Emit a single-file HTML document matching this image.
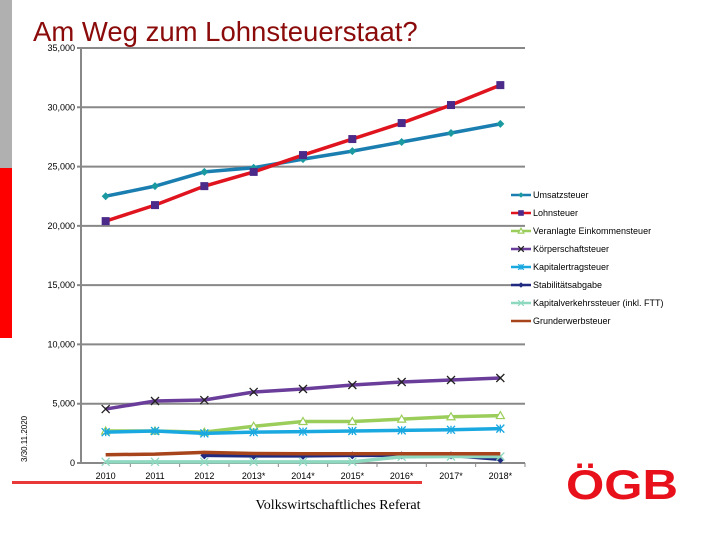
<!DOCTYPE html>
<html><head><meta charset="utf-8"><style>
body{margin:0;background:#fff;width:720px;height:540px;overflow:hidden;font-family:"Liberation Sans",sans-serif;}
svg{display:block}
</style></head><body>
<svg id="c" width="720" height="540" xmlns="http://www.w3.org/2000/svg">
<rect x="0" y="0" width="12" height="168" fill="#b0b0b0"/>
<rect x="0" y="168" width="12" height="170" fill="#ff0000"/>
<text x="33" y="41" font-size="27.5" fill="#8b0a0a">Am Weg zum Lohnsteuerstaat?</text>
<rect x="12" y="481" width="410" height="3" fill="#e83838"/>
<text x="338" y="509" font-size="14" text-anchor="middle" font-family="Liberation Serif, serif">Volkswirtschaftliches Referat</text>
<text transform="translate(27,462) rotate(-90)" font-size="8">3/30.11.2020</text>
<g>
<text x="622" y="499" font-size="42" font-weight="bold" fill="#e8101a" text-anchor="middle" font-family="Liberation Sans, sans-serif" textLength="112" lengthAdjust="spacingAndGlyphs">ÖGB</text>
</g>
<g id="plot"></g>
</svg>
<script>
const categories=["2010","2011","2012","2013*","2014*","2015*","2016*","2017*","2018*"];
const yTicks=[0,5000,10000,15000,20000,25000,30000,35000];
const yTickLabels=["0","5,000","10,000","15,000","20,000","25,000","30,000","35,000"];
const seriesNames=["Umsatzsteuer","Lohnsteuer","Veranlagte Einkommensteuer","Körperschaftsteuer","Kapitalertragsteuer","Stabilitätsabgabe","Kapitalverkehrssteuer (inkl. FTT)","Grunderwerbsteuer"];
const umsatz=[22500,23350,24550,24900,25630,26300,27070,27830,28600];
const lohn=[20400,21750,23350,24550,25970,27320,28670,30190,31870];
const veranlagt=[2700,2700,2600,3100,3500,3500,3700,3900,4000];
const koerper=[4550,5230,5310,5990,6240,6580,6830,7000,7170];
const kapErtrag=[2600,2700,2500,2600,2650,2700,2750,2800,2900];
const stabil=[null,null,640,600,600,640,640,640,300];
const kapVerkehr=[100,100,100,100,100,100,520,550,550];
const grund=[700,750,900,800,780,780,780,780,780];
const allSeries=[umsatz,lohn,veranlagt,koerper,kapErtrag,stabil,kapVerkehr,grund];
const colors=["#1a7fb0","#e0141e","#9acd5a","#6a3d9a","#1aa8e0","#1f2a80","#8fd8c0","#a8441c"];
const markerColors=["#1a9aa0","#4b2a8a","#9acd5a","#222","#1aa8e0","#1f2a80","#8fd8c0","none"];
const markers=["diamond","square","triangle","x","star","diamond","x","none"];
const NS="http://www.w3.org/2000/svg";
const X0=81,X1=525,Y0=463,Y1=48,YMAX=35000;
const xs=i=>X0+(X1-X0)/categories.length*(i+0.5);
const ys=v=>Y0-(Y0-Y1)*v/YMAX;
const g=document.getElementById('plot');
function mk(t,a){const e=document.createElementNS(NS,t);for(const k in a)e.setAttribute(k,a[k]);return e;}
yTicks.forEach((t,i)=>{
 const l=mk('line',{x1:X0-4,x2:X1,y1:ys(t),y2:ys(t),stroke:'#888','stroke-width':2});
 
 
 g.appendChild(l);
 const tx=mk('text',{x:X0-6,y:ys(t)+3,'font-size':9,'text-anchor':'end'});
 tx.textContent=yTickLabels[i];
 
 
 g.appendChild(tx);
});
const ax=mk('line',{x1:X0,x2:X0,y1:Y1,y2:Y0,stroke:'#888','stroke-width':2});


g.appendChild(ax);
categories.forEach((c,i)=>{
 const tk=mk('line',{x1:X0+(X1-X0)/categories.length*(i+1),x2:X0+(X1-X0)/categories.length*(i+1),y1:Y0,y2:Y0+4,stroke:'#888','stroke-width':1});
 g.appendChild(tk);
 const tx=mk('text',{x:xs(i),y:Y0+16,'font-size':9,'text-anchor':'middle'});
 tx.textContent=c;
 
 
 g.appendChild(tx);
});
function marker(type,x,y,col,s){
 s=s||4;let e;
 if(type==='diamond')e=mk('path',{d:`M${x},${y-s}L${x+s},${y}L${x},${y+s}L${x-s},${y}Z`,fill:col});
 else if(type==='square')e=mk('rect',{x:x-s,y:y-s,width:2*s,height:2*s,fill:col});
 else if(type==='triangle')e=mk('path',{d:`M${x},${y-s}L${x+s},${y+s*0.75}L${x-s},${y+s*0.75}Z`,fill:'#fff',stroke:col,'stroke-width':1.2});
 else if(type==='x')e=mk('path',{d:`M${x-s},${y-s}L${x+s},${y+s}M${x+s},${y-s}L${x-s},${y+s}`,stroke:col,'stroke-width':1.3});
 else if(type==='star')e=mk('path',{d:`M${x-s},${y-s}L${x+s},${y+s}M${x+s},${y-s}L${x-s},${y+s}M${x},${y-s}L${x},${y+s}`,stroke:col,'stroke-width':1.3});
 return e;
}
allSeries.forEach((s,si)=>{
 let d='';let started=false;
 s.forEach((v,i)=>{if(v===null){started=false;return;}d+=(started?'L':'M')+xs(i)+','+ys(v);started=true;});
 const p=mk('path',{d:d,fill:'none',stroke:colors[si],'stroke-width':3.5});
 
 
 g.appendChild(p);
 if(markers[si]!=='none')s.forEach((v,i)=>{if(v===null)return;const m=marker(markers[si],xs(i),ys(v),markerColors[si]);
  
  
  g.appendChild(m);});
});
seriesNames.forEach((n,i)=>{
 const y=195+i*18;
 const l=mk('line',{x1:511,x2:531,y1:y,y2:y,stroke:colors[i],'stroke-width':2.5});
 
 
 g.appendChild(l);
 if(markers[i]!=='none'){const m=marker(markers[i],521,y,markerColors[i],2.8);g.appendChild(m);}
 const t=mk('text',{x:533,y:y+3,'font-size':9});
 t.textContent=n;
 
 
 g.appendChild(t);
});
</script>
</body></html>
